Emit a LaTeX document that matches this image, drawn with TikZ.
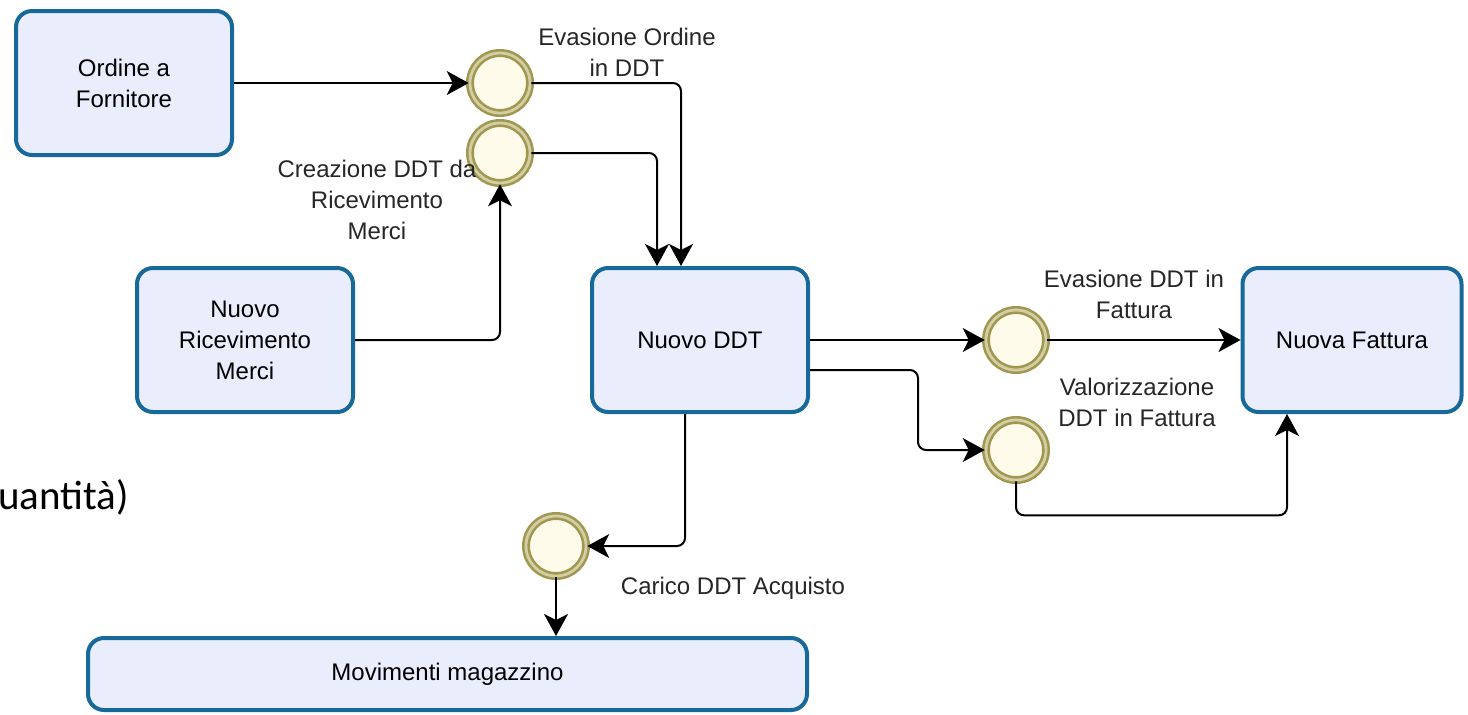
\documentclass[tikz,border=0pt]{standalone}
\usepackage{fontspec}
\setmainfont{Liberation Sans}
\newfontfamily\slidefont{Carlito}
\usepackage{tikz}
\usetikzlibrary{arrows.meta,shapes}

\definecolor{taskblue}{HTML}{17699A}
\definecolor{taskfill}{HTML}{E9EDFC}
\definecolor{eventolive}{HTML}{A09850}
\definecolor{eventfill}{HTML}{FFFBEB}

\begin{document}
\begin{tikzpicture}[x=0.5pt,y=-0.5pt,font=\fontsize{12}{15.5}\selectfont]
            \tikzstyle{task}=[rectangle, rounded corners=8pt, line width=2pt, draw=taskblue, fill=taskfill, inner sep=0pt, align=center, minimum width=108pt, minimum height=72pt]
            \tikzstyle{event}=[circle, minimum size=30pt, inner sep=0pt, line width=1.3pt, draw=eventolive, double=eventfill!55!eventolive, double distance=1.4pt, fill=eventfill]
            \tikzstyle{connect}=[line width=1pt, rounded corners=4pt, -{Stealth[length=11pt,width=12pt,inset=3pt]}]
            \tikzstyle{lbl}=[align=center, inner sep=0pt, text=black!85]
            \useasboundingbox (0,0) rectangle (1468,714);
            \node[task] (ord) at (124,83){Ordine a\\Fornitore};
            \node[task] (ric) at (245,340){Nuovo\\Ricevimento\\Merci};
            \node[task] (ddt) at (700,340){Nuovo DDT};
            \node[task, minimum width=109.5pt] (fat) at (1352,340){Nuova Fattura};
            \node[task, minimum width=359.5pt, minimum height=36pt] (mag) at (447.5,674){Movimenti magazzino};
            \node[event] (ev1) at (500,83){};
            \node[event] (ev2) at (500,153){};
            \node[event] (ev3) at (1016,340){};
            \node[event] (ev4) at (1016,450){};
            \node[event] (ev5) at (556,546){};
            \node[lbl] (l1) at (627,52){Evasione Ordine\\in DDT};
            \node[lbl] (l2) at (377,200){Creazione DDT da\\Ricevimento\\Merci};
            \node[lbl] (l3) at (1134,294){Evasione DDT in\\Fattura};
            \node[lbl] (l4) at (1137,402){Valorizzazione\\DDT in Fattura};
            \node[lbl] (l5) at (733,588){Carico DDT Acquisto};
            \node[anchor=west, inner sep=0pt, font=\slidefont\fontsize{20.5}{24}\selectfont] (qty) at (-2,497){uantità)};
            \draw[connect] (ord.east) -- (ev1.west);
            \draw[connect] (ev1.east) -| ([xshift=-9.5pt]ddt.north);
            \draw[connect] (ev2.east) -| ([xshift=-21.5pt]ddt.north);
            \draw[connect] (ric.east) -| (ev2.south);
            \draw[connect] (ddt.east) -- (ev3.west);
            \draw[connect] ([yshift=-15pt]ddt.east) -- ++(108,0) |- (ev4.west);
            \draw[connect] (ev3.east) -- (fat.west);
            \draw[connect] (ev4.south) -- ++(0,34) -| ([xshift=-32.5pt]fat.south);
            \draw[connect] ([xshift=-7.5pt]ddt.south) |- (ev5.east);
            \draw[connect] (ev5.south) -- (ev5.south |- mag.north);
        \end{tikzpicture}
\end{document}
